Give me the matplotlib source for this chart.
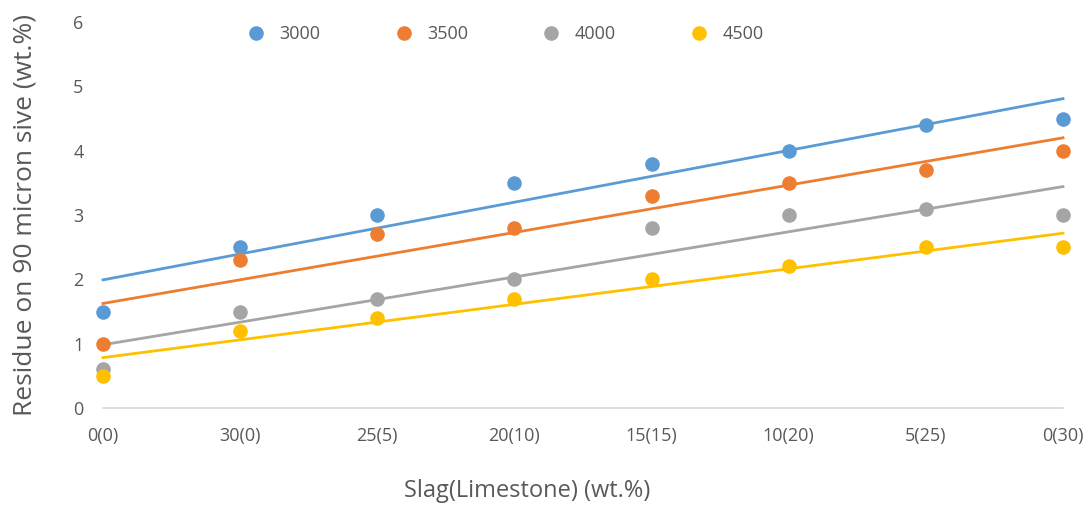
import numpy as np
import matplotlib
matplotlib.use("Agg")
import matplotlib.pyplot as plt

categories = ["0(0)", "30(0)", "25(5)", "20(10)", "15(15)", "10(20)", "5(25)", "0(30)"]
series_names = ["3000", "3500", "4000", "4500"]
s3000 = [1.5, 2.5, 3.0, 3.5, 3.8, 4.0, 4.4, 4.5]
s3500 = [1.0, 2.3, 2.7, 2.8, 3.3, 3.5, 3.7, 4.0]
s4000 = [0.6, 1.5, 1.7, 2.0, 2.8, 3.0, 3.1, 3.0]
s4500 = [0.5, 1.2, 1.4, 1.7, 2.0, 2.2, 2.5, 2.5]
colors = ["#5B9BD5", "#ED7D31", "#A5A5A5", "#FFC000"]

plt.rcParams['font.family'] = ['Open Sans', 'DejaVu Sans']
txt = "#595959"

W, H = 1091, 521
fig = plt.figure(figsize=(W / 100, H / 100), dpi=100)
ax = fig.add_axes([103 / W, 1 - 408 / H, (1063 - 103) / W, (408 - 22) / H])

x = np.arange(len(categories))
handles = []
for name, ys, c in zip(series_names, [s3000, s3500, s4000, s4500], colors):
    ys = np.array(ys)
    h, = ax.plot(x, ys, 'o', color=c, markersize=10.5, markeredgewidth=0,
                 clip_on=False, zorder=3, label=name)
    handles.append(h)
    k, b = np.polyfit(x, ys, 1)
    ax.plot(x, k * x + b, '-', color=c, linewidth=2.0, zorder=2, clip_on=False)

ax.set_xlim(0, len(categories) - 1)
ax.set_ylim(0, 6)
ax.set_yticks(range(0, 7))
ax.set_xticks(x)
ax.set_xticklabels(categories)
for s in ["top", "right", "left"]:
    ax.spines[s].set_visible(False)
ax.spines["bottom"].set_color("#D9D9D9")
ax.spines["bottom"].set_linewidth(1.2)
ax.tick_params(axis='both', length=0, labelsize=13, colors=txt)
ax.tick_params(axis='y', pad=14)
ax.tick_params(axis='x', pad=14)

ax.set_ylabel("Residue on 90 micron sive (wt.%)", fontsize=19, color=txt, labelpad=26)
ax.set_xlabel("Slag(Limestone) (wt.%)", fontsize=17, color=txt)
ax.xaxis.set_label_coords((527 - 103) / 960, -0.185)

fig.legend(handles=handles, loc='center left', bbox_to_anchor=(231 / W, 1 - 34 / H),
           ncol=4, frameon=False, fontsize=13, labelcolor=txt, handletextpad=0.8,
           columnspacing=4.1, handlelength=1.0, markerscale=1.0)

fig.savefig("out.png", dpi=100)
